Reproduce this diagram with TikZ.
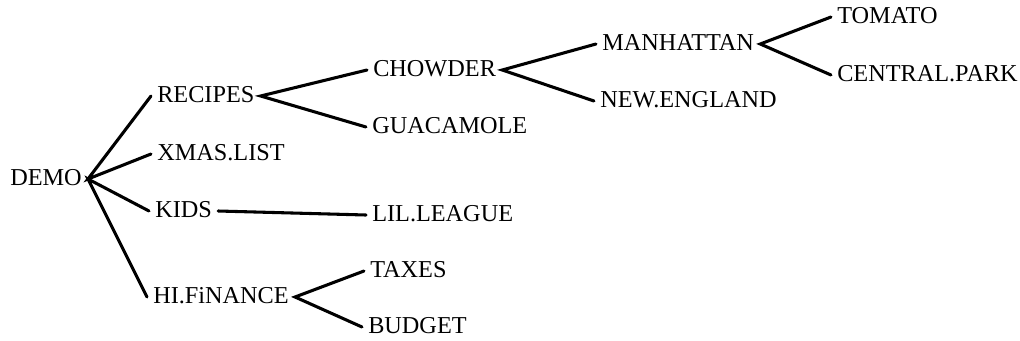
\documentclass[tikz,border=0pt]{standalone}
\usepackage{fontspec}
\setmainfont{Liberation Serif}
\usepackage{tikz}
\usetikzlibrary{positioning}

\begin{document}
\begin{tikzpicture}[x=0.75pt,y=-0.75pt,
  dirname/.style={anchor=west,inner xsep=4.5pt,inner ysep=3pt,text height=0.9em,text depth=0pt,font=\fontsize{18.2}{21}\selectfont},
  branch/.style={line width=2.3pt,line cap=round}]
\useasboundingbox (0,0) rectangle (1020,340);

% Root
\node[dirname] (demo) at (4,179) {DEMO};

% First level
\node[dirname] (recipes) at (151,96) {RECIPES};
\node[dirname] (xmas) at (151,154) {XMAS.LIST};
\node[dirname] (kids) at (149,211) {KIDS};
\node[dirname] (hifin) at (147,297) {HI.FiNANCE};

% Second level
\node[dirname] (chowder) at (367,70) {CHOWDER};
\node[dirname] (guac) at (366,127) {GUACAMOLE};
\node[dirname] (league) at (366,215) {LIL.LEAGUE};
\node[dirname] (taxes) at (364,271) {TAXES};
\node[dirname] (budget) at (362,327) {BUDGET};

% Third and fourth level
\node[dirname] (manhattan) at (596,44) {MANHATTAN};
\node[dirname] (newengland) at (594,101) {NEW.ENGLAND};
\node[dirname] (tomato) at (831,17) {TOMATO};
\node[dirname] (central) at (831,75) {CENTRAL.PARK};

% Branches
\draw[branch] (recipes.west) -- (demo.east) -- (xmas.west);
\draw[branch] (kids.west) -- (demo.east) -- (hifin.west);
\draw[branch] (chowder.west) -- (recipes.east) -- (guac.west);
\draw[branch] (kids.east) -- (league.west);
\draw[branch] (taxes.west) -- (hifin.east) -- (budget.west);
\draw[branch] (manhattan.west) -- (chowder.east) -- (newengland.west);
\draw[branch] (tomato.west) -- (manhattan.east) -- (central.west);
\end{tikzpicture}
\end{document}
